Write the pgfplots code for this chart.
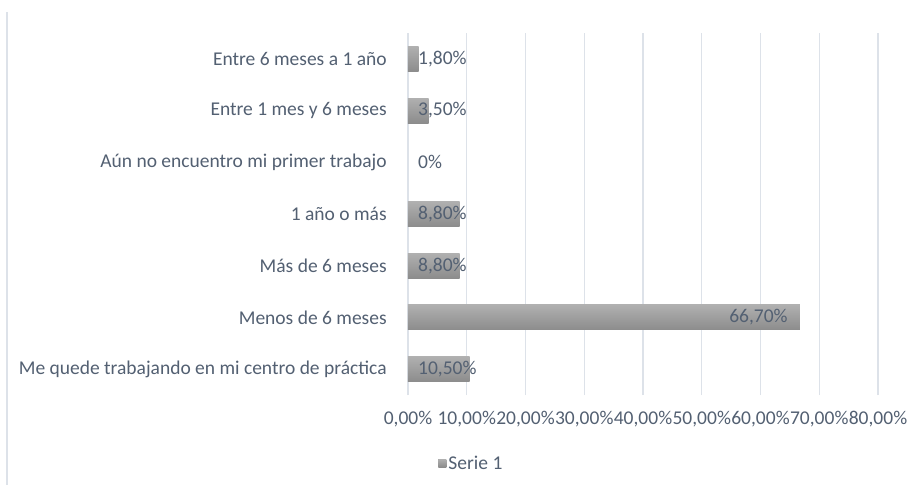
\documentclass[border=0pt]{standalone}
\usepackage{pgfplots}
\pgfplotsset{compat=1.18}
\usepackage{fontspec}
\setmainfont{Carlito}
\definecolor{txt}{HTML}{536072}
\definecolor{gridc}{HTML}{DDE2E9}
\definecolor{bartop}{HTML}{B0B0B0}
\definecolor{barbot}{HTML}{8C8C8C}
\newcommand{\lblfont}{\fontsize{19.5}{23}\selectfont}
\begin{document}
\begin{tikzpicture}[x=1pt,y=1pt]
\useasboundingbox (0,0) rectangle (921,485);
\fill[white] (0,0) rectangle (921,485);
% chart area border on the left
\draw[color=gridc, line width=1.2pt] (7,0) -- (7,473);
\begin{axis}[
    at={(408pt,90pt)}, anchor=south west,
    scale only axis,
    width=470pt, height=362pt,
    xmin=0, xmax=80,
    ymin=0.5, ymax=7.5,
    axis lines=left,
    axis line style={draw=none},
    tick style={draw=none},
    xtick={0,10,...,80},
    xticklabels={{0,00\%},{10,00\%},{20,00\%},{30,00\%},{40,00\%},{50,00\%},{60,00\%},{70,00\%},{80,00\%}},
    ytick={1,...,7},
    yticklabels={Me quede trabajando en mi centro de práctica, Menos de 6 meses, Más de 6 meses, 1 año o más, Aún no encuentro mi primer trabajo, Entre 1 mes y 6 meses, Entre 6 meses a 1 año},
    xmajorgrids,
    grid style={gridc, line width=1.3pt},
    tick label style={font=\lblfont, text=txt},
    yticklabel style={inner sep=0pt, anchor=east, xshift=-19pt},
    xticklabel style={inner sep=0pt, anchor=north, yshift=-14pt},
    legend style={draw=none, fill=none, font=\lblfont, text=txt,
        at={(axis description cs:0.135,-0.188)}, anchor=center},
    legend image code/.code={\fill[barbot!80!white] (0pt,-4pt) rectangle (8pt,4pt);},
    gbar/.style={xbar, bar width=25pt, bar shift=0pt, top color=bartop, bottom color=barbot, draw=none},
]
% one plot per bar so that each bar gets its own gradient
\addplot[gbar] coordinates {(10.5,1)};
\addlegendentry{Serie 1}
\addplot[gbar, forget plot] coordinates {(66.7,2)};
\addplot[gbar, forget plot] coordinates {(8.8,3)};
\addplot[gbar, forget plot] coordinates {(8.8,4)};
\addplot[gbar, forget plot] coordinates {(0,5)};
\addplot[gbar, forget plot] coordinates {(3.5,6)};
\addplot[gbar, forget plot] coordinates {(1.8,7)};

% data labels: small bars start at the axis
\addplot[draw=none, mark=none, forget plot, nodes near coords, point meta=explicit symbolic,
    nodes near coords style={anchor=west, inner sep=0pt, xshift=10pt, text=txt, font=\lblfont}]
    coordinates {(0,1) [10,50\%] (0,3) [8,80\%] (0,4) [8,80\%] (0,5) [0\%] (0,6) [3,50\%] (0,7) [1,80\%]};
% data label inside the long bar
\addplot[draw=none, mark=none, forget plot, nodes near coords, point meta=explicit symbolic,
    nodes near coords style={anchor=east, inner sep=0pt, xshift=-12pt, text=txt, font=\lblfont}]
    coordinates {(66.7,2) [66,70\%]};
\end{axis}
\end{tikzpicture}
\end{document}
